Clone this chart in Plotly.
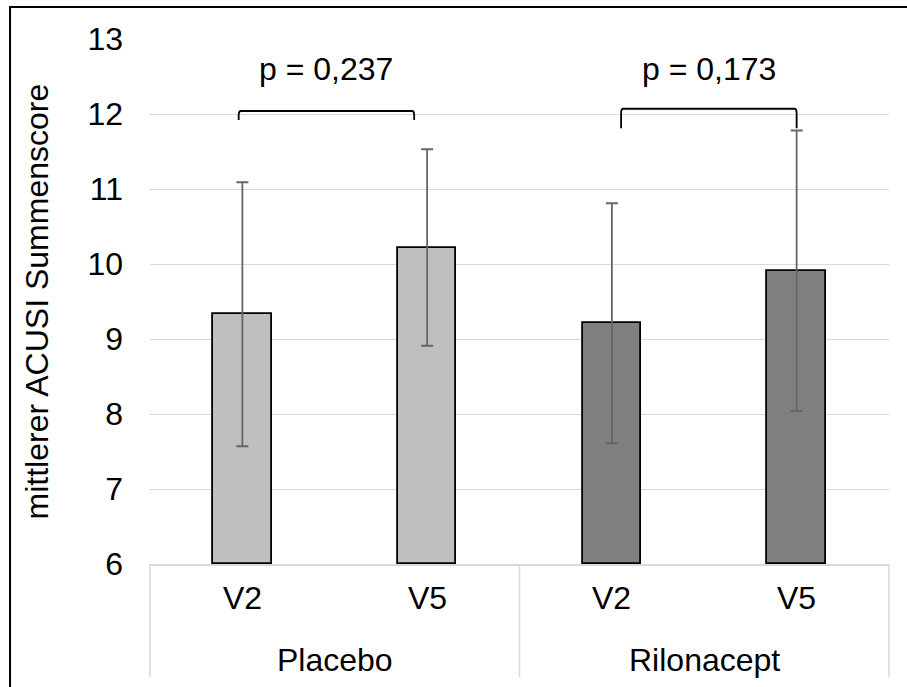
import plotly.graph_objects as go

# ---- data ----
groups = ["Placebo", "Placebo", "Rilonacept", "Rilonacept"]
visits = ["V2", "V5", "V2", "V5"]
means = [9.33, 10.22, 9.21, 9.91]
sds = [1.76, 1.31, 1.60, 1.87]
bar_colors = ["#bfbfbf", "#bfbfbf", "#808080", "#808080"]
group_names = ["Placebo", "Rilonacept"]
p_labels = ["p = 0,237", "p = 0,173"]
y_ticks = [6, 7, 8, 9, 10, 11, 12, 13]

FONT = "Liberation Sans, Arial, sans-serif"
FS = 32
xpos = list(range(len(means)))

fig = go.Figure()
fig.add_trace(go.Bar(
    x=xpos, y=[m - 6 for m in means], base=6,
    width=0.316,
    marker=dict(color=bar_colors, line=dict(color="#000000", width=1.8)),
    error_y=dict(type="data", array=sds, symmetric=True,
                 color="#666666", thickness=1.8, width=6),
    showlegend=False, hoverinfo="skip",
))

# brackets (x-span in category units, top, end-level)
brackets = [(-0.02, 0.93, 12.04, 11.92), (2.05, 3.0, 12.07, 11.81)]
shapes = []
for (xa, xb, yt, yb), lab in zip(brackets, p_labels):
    r = 0.012
    path = (f"M {xa},{yb} L {xa},{yt-0.06} Q {xa},{yt} {xa+r},{yt} "
            f"L {xb-r},{yt} Q {xb},{yt} {xb},{yt-0.06} L {xb},{yb}")
    shapes.append(dict(type="path", path=path, xref="x", yref="y",
                       line=dict(color="#000000", width=1.8)))

annotations = []
for (xa, xb, yt, yb), lab in zip(brackets, p_labels):
    annotations.append(dict(x=(xa + xb) / 2, y=12.6, xref="x", yref="y",
                            text=lab, showarrow=False,
                            font=dict(family=FONT, size=FS, color="#000")))

# category axis labels
for i, v in enumerate(visits):
    annotations.append(dict(x=i, y=-0.065, xref="x", yref="paper", text=v,
                            showarrow=False, yanchor="middle",
                            font=dict(family=FONT, size=FS, color="#000")))
for j, g in enumerate(group_names):
    annotations.append(dict(x=2 * j + 0.5, y=-0.183, xref="x", yref="paper",
                            text=g, showarrow=False, yanchor="middle",
                            font=dict(family=FONT, size=FS, color="#000")))

annotations.append(dict(x=-0.153, y=0.5, xref="paper", yref="paper",
                        xanchor="center", yanchor="middle",
                        text="mittlerer ACUSI Summenscore", textangle=-90,
                        showarrow=False,
                        font=dict(family=FONT, size=FS, color="#000")))

# category box lines
for xp in [0, 0.5, 1]:
    shapes.append(dict(type="line", xref="paper", yref="paper",
                       x0=xp, x1=xp, y0=0, y1=-0.215,
                       line=dict(color="#d9d9d9", width=1.5)))
# outer chart border
shapes.append(dict(type="rect", xref="paper", yref="paper",
                   x0=-0.1894, x1=1.04, y0=-0.35, y1=1.061,
                   line=dict(color="#000000", width=2), layer="above"))

fig.update_layout(
    width=907, height=687,
    margin=dict(l=150, r=18, t=39, b=123),
    paper_bgcolor="white", plot_bgcolor="white",
    font=dict(family=FONT, size=FS, color="#000"),
    xaxis=dict(range=[-0.5, 3.5], showticklabels=False, showgrid=False,
               zeroline=False, showline=True, linecolor="#d9d9d9",
               linewidth=1.5, fixedrange=True),
    yaxis=dict(range=[6, 13], tickvals=y_ticks, showgrid=True,
               gridcolor="#d9d9d9", gridwidth=1.3, zeroline=False,
               showline=False, ticks="", ticklabelstandoff=26,
               tickfont=dict(family=FONT, size=FS, color="#000")),
    shapes=shapes, annotations=annotations,
    bargap=0,
)

fig.write_html("out.html")
